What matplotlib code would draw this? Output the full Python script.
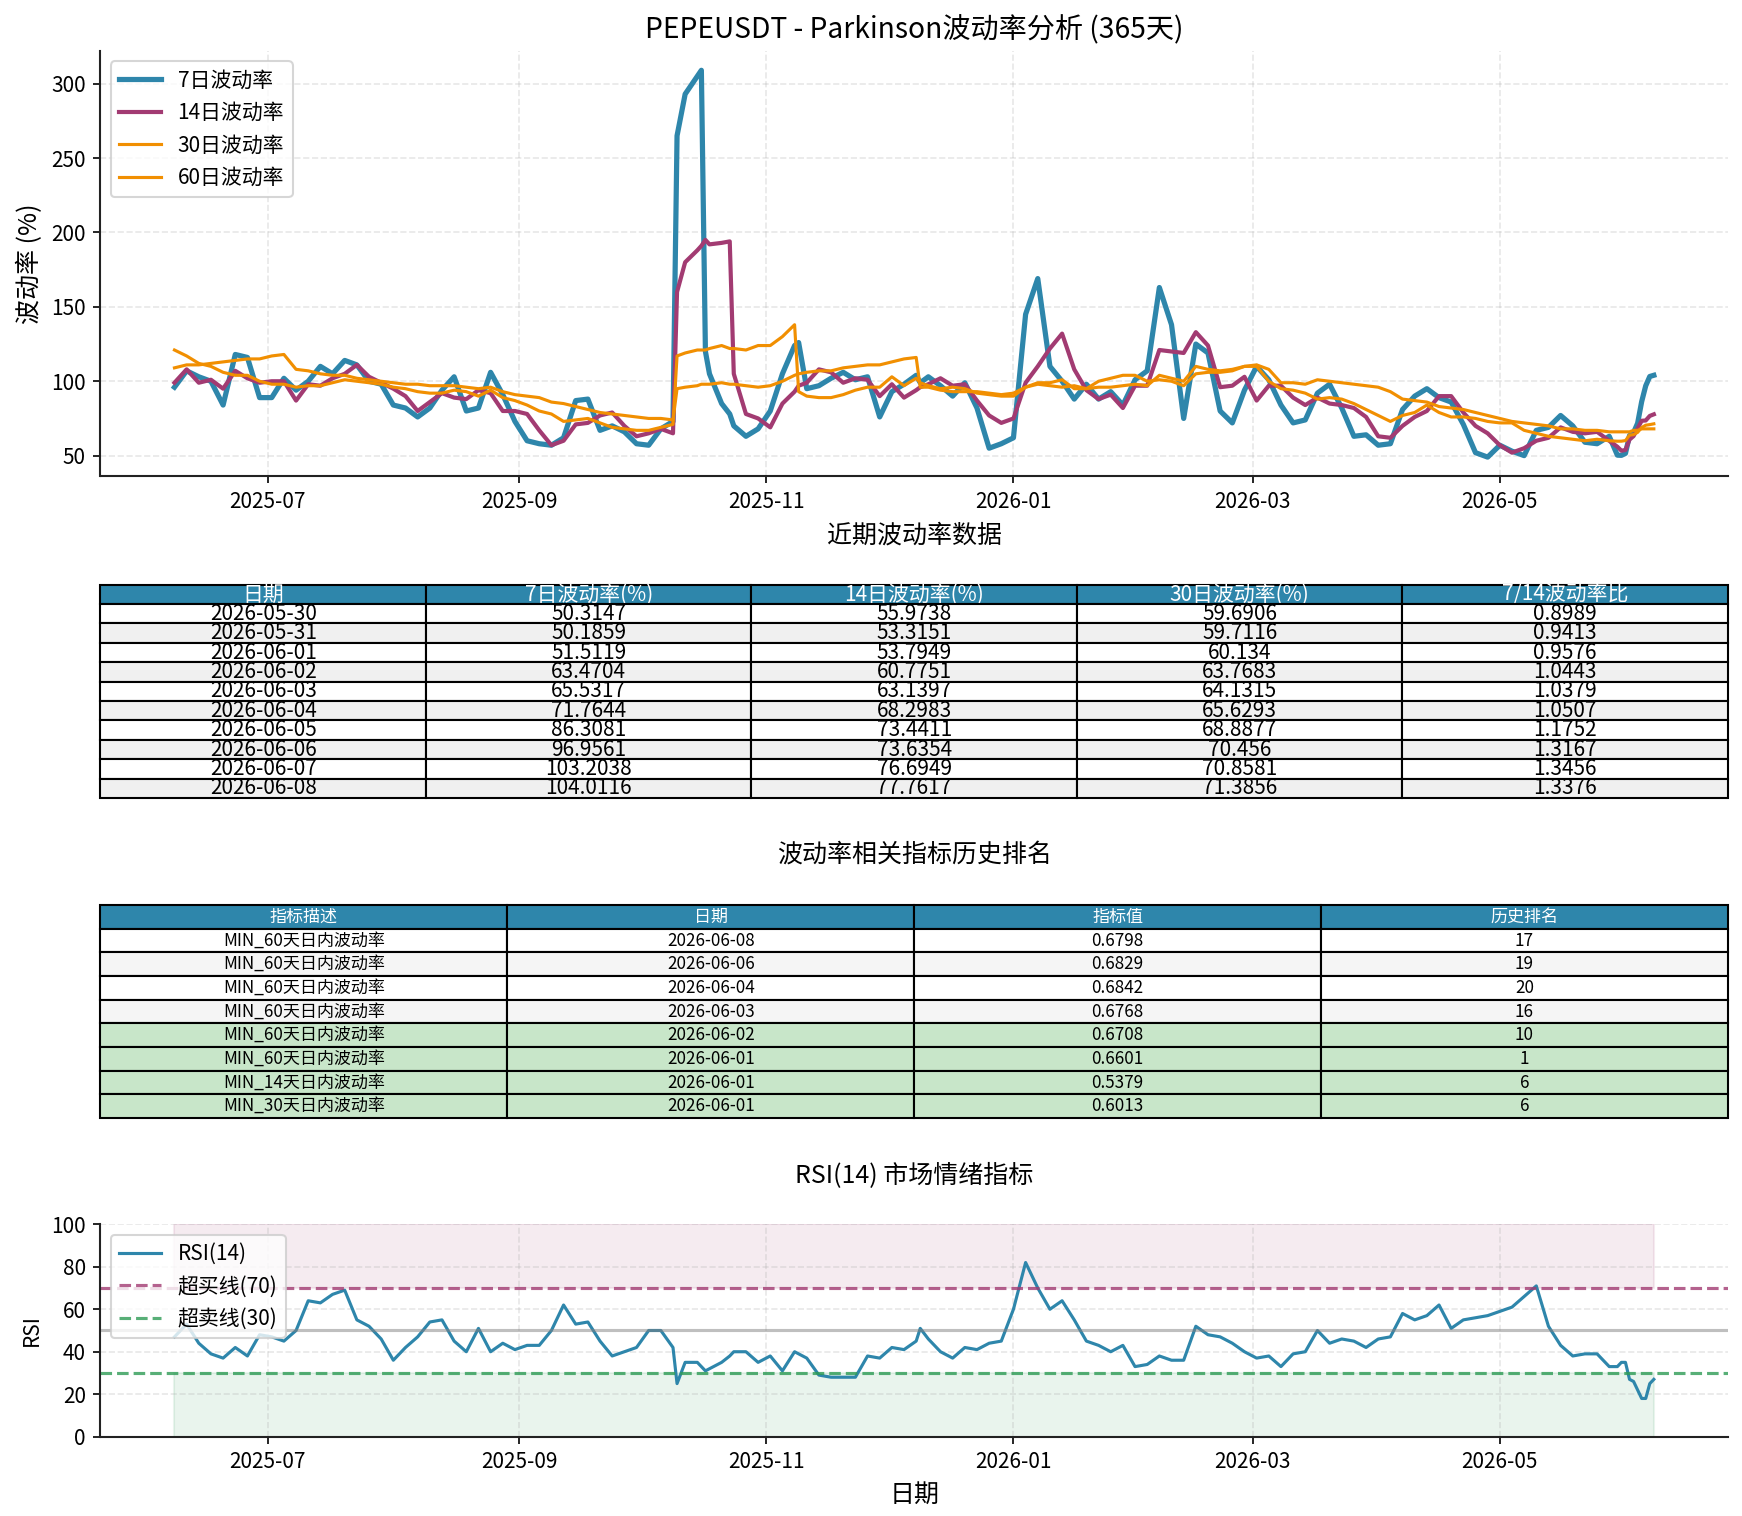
import numpy as np
import pandas as pd
import matplotlib
matplotlib.use("Agg")
import matplotlib.pyplot as plt
import matplotlib.dates as mdates

plt.rcParams['font.family'] = ['Noto Sans CJK SC', 'DejaVu Sans']
plt.rcParams['axes.unicode_minus'] = False

# day offsets from 2025-06-08 (mostly 3-day steps, extra points at sharp jumps, daily at the end)
days = ([0, 3, 6, 9, 12, 15, 18, 21, 24, 27, 30, 33, 36, 39, 42, 45, 48, 51, 54, 57,
         60, 63, 66, 69, 72, 75, 78, 81, 84, 87, 90, 93, 96, 99, 102, 105, 108, 111, 114, 117, 120,
         123, 124, 126, 129, 130, 131, 132, 135, 137, 138,
         141, 144, 147, 150, 153, 154,
         156, 159, 162, 165, 168, 171, 174, 177, 180, 183, 184]
        + list(range(186, 355, 3))
        + [356, 357, 358, 359, 360, 361, 362, 363, 364, 365])
start_date = "2025-06-08"

vol_7 = [96, 107, 103, 100, 84, 118, 116, 89, 89, 102, 94, 100, 110, 105, 114, 111, 100, 98, 84, 82,
         76, 82, 94, 103, 80, 82, 106, 91, 73, 60, 58, 57, 62, 87, 88, 67, 70, 66, 58, 57, 68,
         73, 265, 293, 305, 309, 120, 105, 85, 78, 70,
         63, 68, 80, 105, 124, 126,
         95, 97, 102, 106, 101, 103, 76, 93, 98, 104, 99,
         103, 97, 90, 99, 82, 55, 58, 62, 145, 169, 110, 100, 88, 98, 88, 93, 84, 101, 107, 163,
         138, 75, 125, 119, 80, 72, 94, 110, 101, 84, 72, 74, 92, 98, 82, 63, 64, 57, 58, 81,
         90, 95, 89, 86, 71, 52, 49, 57, 53, 50, 67, 69, 77, 70, 59, 58, 63,
         50.3147, 50.1859, 51.5119, 63.4704, 65.5317, 71.7644, 86.3081, 96.9561, 103.2038, 104.0116]

vol_14 = [99, 108, 99, 101, 95, 107, 102, 99, 100, 100, 87, 98, 97, 102, 105, 111, 103, 99, 95, 90,
          80, 86, 92, 89, 88, 94, 92, 80, 80, 78, 67, 57, 60, 71, 72, 77, 79, 70, 63, 65, 68,
          65, 160, 180, 188, 191, 195, 192, 193, 194, 105,
          78, 75, 69, 85, 93, 97,
          99, 108, 106, 99, 102, 101, 90, 98, 89, 94, 96,
          98, 102, 97, 98, 87, 77, 72, 75, 99, 110, 122, 132, 108, 94, 88, 91, 82, 97, 97, 121,
          120, 119, 133, 124, 96, 97, 103, 87, 97, 97, 89, 84, 89, 85, 84, 82, 76, 63, 62, 70,
          76, 80, 90, 90, 79, 70, 65, 57, 52, 55, 60, 62, 69, 66, 65, 66, 60,
          55.9738, 53.3151, 53.7949, 60.7751, 63.1397, 68.2983, 73.4411, 73.6354, 76.6949, 77.7617]

vol_30 = [121, 117, 112, 110, 106, 104, 104, 100, 98, 98, 96, 97, 97, 99, 101, 100, 99, 98, 96, 95,
          93, 92, 92, 94, 93, 90, 94, 89, 87, 84, 80, 78, 73, 74, 75, 72, 69, 68, 67, 67, 69,
          71, 117, 119, 121, 121, 121, 122, 124, 122, 122,
          121, 124, 124, 130, 138, 93,
          90, 89, 89, 91, 94, 96, 96, 103, 97, 102, 99,
          97, 95, 96, 95, 92, 91, 90, 90, 96, 99, 99, 101, 95, 95, 100, 102, 104, 104, 100, 101,
          100, 97, 105, 106, 106, 107, 110, 110, 100, 95, 94, 92, 88, 89, 88, 85, 81, 77, 73, 77,
          79, 84, 79, 76, 76, 75, 73, 72, 72, 67, 65, 63, 62, 61, 60, 61, 60,
          59.6906, 59.7116, 60.134, 63.7683, 64.1315, 65.6293, 68.8877, 70.456, 70.8581, 71.3856]

vol_60 = [109, 111, 111, 112, 113, 114, 115, 115, 117, 118, 108, 107, 105, 104, 104, 102, 101, 100, 99, 98,
          98, 97, 97, 97, 96, 95, 96, 93, 91, 90, 89, 86, 85, 83, 81, 79, 78, 77, 76, 75, 75,
          74, 95, 96, 97, 98, 98, 98, 99, 98, 98,
          97, 96, 97, 100, 104, 105,
          106, 107, 107, 109, 110, 111, 111, 113, 115, 116, 96,
          96, 94, 93, 93, 93, 92, 91, 92, 96, 98, 97, 96, 97, 95, 96, 96, 97, 98, 97, 104,
          102, 100, 110, 108, 107, 108, 110, 111, 108, 99, 99, 98, 101, 100, 99, 98, 97, 96, 93, 88,
          87, 86, 83, 82, 81, 79, 77, 75, 73, 72, 71, 70, 68, 68, 67, 67, 66,
          66, 66, 66, 66, 67, 67, 68, 68, 68, 68]

rsi_14 = [47, 53, 44, 39, 37, 42, 38, 48, 47, 45, 50, 64, 63, 67, 69, 55, 52, 46, 36, 42,
          47, 54, 55, 45, 40, 51, 40, 44, 41, 43, 43, 50, 62, 53, 54, 45, 38, 40, 42, 50, 50,
          42, 25, 35, 35, 33, 31, 32, 35, 38, 40,
          40, 35, 38, 31, 40, 39,
          37, 29, 28, 28, 28, 38, 37, 42, 41, 45, 51,
          46, 40, 37, 42, 41, 44, 45, 60, 82, 70, 60, 64, 55, 45, 43, 40, 43, 33, 34, 38,
          36, 36, 52, 48, 47, 44, 40, 37, 38, 33, 39, 40, 50, 44, 46, 45, 42, 46, 47, 58,
          55, 57, 62, 51, 55, 56, 57, 59, 61, 66, 71, 52, 43, 38, 39, 39, 33,
          33, 35, 35, 27, 26, 22, 18, 18, 25, 27]

# recent data table
recent_dates = ["2026-05-30", "2026-05-31", "2026-06-01", "2026-06-02", "2026-06-03",
                "2026-06-04", "2026-06-05", "2026-06-06", "2026-06-07", "2026-06-08"]
recent_7 = [50.3147, 50.1859, 51.5119, 63.4704, 65.5317, 71.7644, 86.3081, 96.9561, 103.2038, 104.0116]
recent_14 = [55.9738, 53.3151, 53.7949, 60.7751, 63.1397, 68.2983, 73.4411, 73.6354, 76.6949, 77.7617]
recent_30 = [59.6906, 59.7116, 60.134, 63.7683, 64.1315, 65.6293, 68.8877, 70.456, 70.8581, 71.3856]
recent_ratio = [0.8989, 0.9413, 0.9576, 1.0443, 1.0379, 1.0507, 1.1752, 1.3167, 1.3456, 1.3376]
recent_cols = ["日期", "7日波动率(%)", "14日波动率(%)", "30日波动率(%)", "7/14波动率比"]

# ranking table
rank_desc = ["MIN_60天日内波动率"] * 6 + ["MIN_14天日内波动率", "MIN_30天日内波动率"]
rank_dates = ["2026-06-08", "2026-06-06", "2026-06-04", "2026-06-03",
              "2026-06-02", "2026-06-01", "2026-06-01", "2026-06-01"]
rank_values = ["0.6798", "0.6829", "0.6842", "0.6768", "0.6708", "0.6601", "0.5379", "0.6013"]
rank_pos = [17, 19, 20, 16, 10, 1, 6, 6]
rank_cols = ["指标描述", "日期", "指标值", "历史排名"]

dates = pd.Timestamp(start_date) + pd.to_timedelta(days, unit="D")

blue = "#2E86AB"
purple = "#A23B72"
orange = "#F18F01"
green = "#2E9B55"

fig = plt.figure(figsize=(11.62, 10.107), dpi=150)
W, H = 1743, 1516
left = 100.5 / W
width = (1727.8 - 100.5) / W


def frac(top_px, bottom_px):
    return [left, 1 - bottom_px / H, width, (bottom_px - top_px) / H]


def style_axes(ax):
    ax.spines['top'].set_visible(False)
    ax.spines['right'].set_visible(False)
    for s in ('left', 'bottom'):
        ax.spines[s].set_color('#222222')
        ax.spines[s].set_linewidth(1.0)
    ax.grid(True, linestyle='--', alpha=0.3)
    ax.xaxis.set_major_locator(mdates.MonthLocator(bymonth=[1, 3, 5, 7, 9, 11]))
    ax.xaxis.set_major_formatter(mdates.DateFormatter('%Y-%m'))
    ax.tick_params(labelsize=10)


# volatility chart
ax1 = fig.add_axes(frac(51, 476.5))
ax1.plot(dates, vol_7, color=blue, lw=2.5, label="7日波动率")
ax1.plot(dates, vol_14, color=purple, lw=2.0, label="14日波动率")
ax1.plot(dates, vol_30, color=orange, lw=1.5, label="30日波动率")
ax1.plot(dates, vol_60, color=orange, lw=1.5, label="60日波动率")
style_axes(ax1)
ax1.set_ylabel("波动率 (%)", fontsize=12)
ax1.legend(loc="upper left", fontsize=10)
fig.text(0.5245, 1 - 30 / H, "PEPEUSDT - Parkinson波动率分析 (365天)",
         ha="center", va="center", fontsize=13.5)


def draw_table(ax, cell_text, cols, row_colors, fontsize):
    ax.axis("off")
    tb = ax.table(cellText=cell_text, colLabels=cols, cellLoc="center",
                  loc="center", bbox=[0, 0, 1, 1])
    tb.auto_set_font_size(False)
    tb.set_fontsize(fontsize)
    for (r, c), cell in tb.get_celld().items():
        cell.set_edgecolor("black")
        cell.set_linewidth(1.0)
        if r == 0:
            cell.set_facecolor(blue)
            cell.get_text().set_color("white")
        else:
            cell.set_facecolor(row_colors[r - 1])
    return tb


# recent volatility table
ax2 = fig.add_axes(frac(584.7, 798))
rows1 = [[d, str(a), str(b), str(c), str(r)] for d, a, b, c, r in
         zip(recent_dates, recent_7, recent_14, recent_30, recent_ratio)]
colors1 = ["white" if i % 2 == 0 else "#f0f0f0" for i in range(len(rows1))]
draw_table(ax2, rows1, recent_cols, colors1, 10)
fig.text(0.5245, 1 - 536 / H, "近期波动率数据", ha="center", va="center", fontsize=12)

# ranking table
ax3 = fig.add_axes(frac(905, 1118))
rows2 = [[a, b, c, str(d)] for a, b, c, d in zip(rank_desc, rank_dates, rank_values, rank_pos)]
colors2 = ["white", "#f5f5f5", "white", "#f5f5f5"] + ["#c8e6c9"] * 4
draw_table(ax3, rows2, rank_cols, colors2, 8.2)
fig.text(0.5245, 1 - 855 / H, "波动率相关指标历史排名", ha="center", va="center", fontsize=12)

# RSI chart
ax4 = fig.add_axes(frac(1224.3, 1436.7))
ax4.plot(dates, rsi_14, color=blue, lw=1.5, label="RSI(14)")
ax4.axhline(70, color=purple, linestyle="--", lw=1.5, alpha=0.8, label="超买线(70)")
ax4.axhline(30, color=green, linestyle="--", lw=1.5, alpha=0.8, label="超卖线(30)")
ax4.axhline(50, color="gray", linestyle="-", lw=1.5, alpha=0.5)
ax4.fill_between(dates, 70, 100, color=purple, alpha=0.1)
ax4.fill_between(dates, 0, 30, color=green, alpha=0.1)
ax4.set_ylim(0, 100)
style_axes(ax4)
ax4.set_ylabel("RSI", fontsize=10)
ax4.set_xlabel("日期", fontsize=12)
ax4.legend(loc="upper left", fontsize=10)
fig.text(0.5245, 1 - 1175 / H, "RSI(14) 市场情绪指标", ha="center", va="center", fontsize=12)

fig.savefig("out.png", dpi=150)
